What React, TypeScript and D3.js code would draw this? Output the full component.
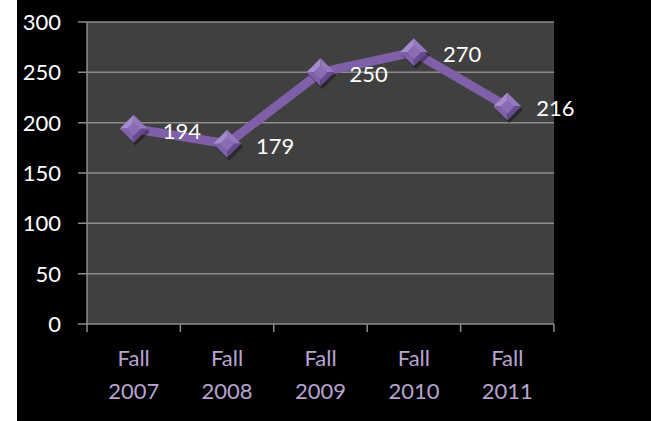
import React from 'react';
import * as d3 from 'd3';

const categories = ['Fall 2007', 'Fall 2008', 'Fall 2009', 'Fall 2010', 'Fall 2011'];
const enrollment = [194, 179, 250, 270, 216];
const yTicks = [0, 50, 100, 150, 200, 250, 300];

const W = 651;
const H = 421;
const margin = { top: 22, right: 97, bottom: 97, left: 87 };
const font = 'Lato, "Open Sans", sans-serif';

export default function App() {
  const x = d3
    .scaleBand<string>()
    .domain(categories)
    .range([margin.left, W - margin.right]);

  const y = d3
    .scaleLinear()
    .domain([0, 300])
    .range([H - margin.bottom, margin.top]);

  const cx = (c: string) => (x(c) as number) + x.bandwidth() / 2;

  const line = d3
    .line<number>()
    .x((_, i) => cx(categories[i]))
    .y((d) => y(d));

  const r = 14; // meio-tamanho do losango
  const bands = [...categories.map((c) => x(c) as number), W - margin.right];

  return (
    <div style={{ position: 'fixed', left: 0, top: 0 }}>
      <svg width={W} height={H} style={{ display: 'block' }}>
        <rect x={0} y={0} width={W} height={H} fill="#ffffff" />
        <rect x={17} y={0} width={W - 17} height={H} fill="#000000" />
        {/* plot area */}
        <rect
          x={margin.left}
          y={margin.top}
          width={W - margin.left - margin.right}
          height={H - margin.top - margin.bottom}
          fill="#404040"
        />
        {/* grid + y ticks */}
        {yTicks.map((t) => (
          <g key={t}>
            <line x1={78} x2={W - margin.right} y1={y(t)} y2={y(t)} stroke="#8c8c8c" strokeWidth={1.5} />
            <text
              x={61}
              y={y(t)}
              dy="0.36em"
              textAnchor="end"
              fill="#ffffff"
              fontFamily={font}
              fontSize={22}
            >
              {t}
            </text>
          </g>
        ))}
        <line x1={margin.left} x2={margin.left} y1={margin.top} y2={y(0)} stroke="#8c8c8c" strokeWidth={1.5} />
        {bands.map((b, i) => (
          <line key={i} x1={b} x2={b} y1={y(0)} y2={y(0) + 8} stroke="#8c8c8c" strokeWidth={1.5} />
        ))}
        {/* x labels */}
        {categories.map((c) => {
          const [a, b] = c.split(' ');
          return (
            <text key={c} x={cx(c)} textAnchor="middle" fill="#b7a5cf" fontFamily={font} fontSize={22}>
              <tspan x={cx(c)} y={366}>{a}</tspan>
              <tspan x={cx(c)} y={399}>{b}</tspan>
            </text>
          );
        })}
        {/* line */}
        <path d={line(enrollment) ?? ''} fill="none" stroke="#7e5fa8" strokeWidth={9} strokeLinejoin="round" />
        {/* markers */}
        {enrollment.map((v, i) => {
          const px = cx(categories[i]);
          const py = y(v);
          return (
            <g key={i}>
              <path
                d={`M${px + 2},${py - r + 3}L${px + r + 2},${py + 3}L${px + 2},${py + r + 3}L${px - r + 2},${py + 3}Z`}
                fill="#000000"
                opacity={0.35}
              />
              <path d={`M${px},${py - r}L${px + r},${py}L${px},${py}Z`} fill="#9478bd" />
              <path d={`M${px},${py - r}L${px - r},${py}L${px},${py}Z`} fill="#a48bcb" />
              <path d={`M${px - r},${py}L${px},${py + r}L${px},${py}Z`} fill="#7f61aa" />
              <path d={`M${px + r},${py}L${px},${py + r}L${px},${py}Z`} fill="#664a8f" />
              <rect x={px - 5} y={py - 5} width={10} height={10} transform={`rotate(45 ${px} ${py})`} fill="#8a6cb4" />
            </g>
          );
        })}
        {/* data labels */}
        {enrollment.map((v, i) => (
          <text
            key={i}
            x={cx(categories[i]) + 29}
            y={y(v) + 2}
            dy="0.36em"
            fill="#ffffff"
            fontFamily={font}
            fontSize={22}
          >
            {v}
          </text>
        ))}
      </svg>
    </div>
  );
}
